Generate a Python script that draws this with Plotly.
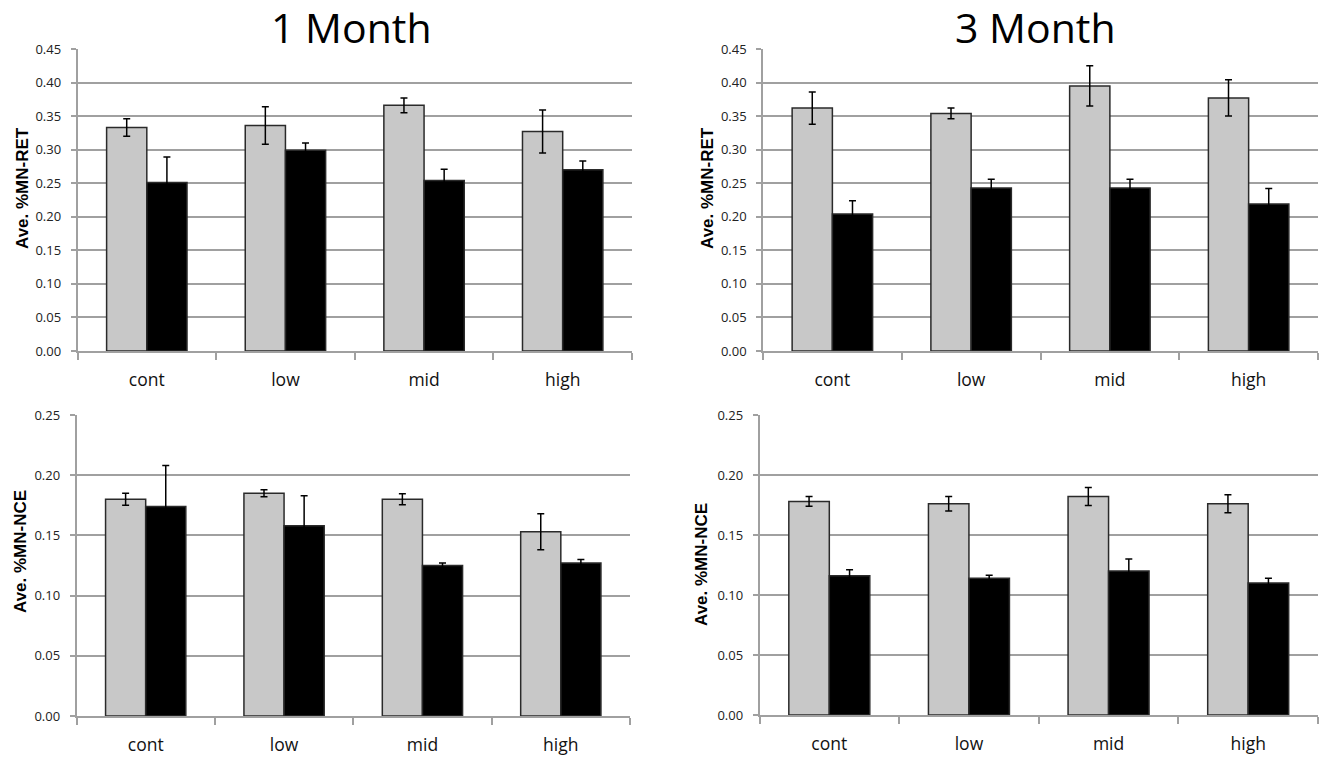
import plotly.graph_objects as go

categories = ["cont", "low", "mid", "high"]

# 1 Month, %MN-RET
m1_ret_grey = [0.333, 0.336, 0.366, 0.327]
m1_ret_grey_err = [0.013, 0.028, 0.011, 0.032]
m1_ret_black = [0.251, 0.299, 0.254, 0.270]
m1_ret_black_err = [0.038, 0.011, 0.017, 0.013]

# 3 Month, %MN-RET
m3_ret_grey = [0.362, 0.354, 0.395, 0.377]
m3_ret_grey_err = [0.024, 0.008, 0.030, 0.027]
m3_ret_black = [0.204, 0.243, 0.243, 0.219]
m3_ret_black_err = [0.020, 0.013, 0.013, 0.023]

# 1 Month, %MN-NCE
m1_nce_grey = [0.180, 0.185, 0.180, 0.153]
m1_nce_grey_err = [0.005, 0.003, 0.0045, 0.015]
m1_nce_black = [0.174, 0.158, 0.125, 0.127]
m1_nce_black_err = [0.034, 0.025, 0.002, 0.003]

# 3 Month, %MN-NCE
m3_nce_grey = [0.178, 0.176, 0.182, 0.176]
m3_nce_grey_err = [0.004, 0.006, 0.0075, 0.0075]
m3_nce_black = [0.116, 0.114, 0.120, 0.110]
m3_nce_black_err = [0.005, 0.0025, 0.010, 0.004]

W, H = 1320, 759
GREY = "#c8c8c8"
GRID = "#a0a0a0"

def fx(px):
    return px / W

def fy(py):
    return 1 - py / H

panels = [
    ("", m1_ret_grey, m1_ret_grey_err, m1_ret_black, m1_ret_black_err, (77.5, 632), (49, 351), 0.45),
    ("2", m3_ret_grey, m3_ret_grey_err, m3_ret_black, m3_ret_black_err, (763, 1318), (49, 351), 0.45),
    ("3", m1_nce_grey, m1_nce_grey_err, m1_nce_black, m1_nce_black_err, (76.5, 630), (415, 716), 0.25),
    ("4", m3_nce_grey, m3_nce_grey_err, m3_nce_black, m3_nce_black_err, (759.5, 1318), (415, 715), 0.25),
]

fig = go.Figure()
layout = {}
for aid, g, ge, b, be, xd, yd, ymax in panels:
    xa = "x" + aid
    ya = "y" + aid
    for vals, errs, col in ((g, ge, GREY), (b, be, "#000000")):
        fig.add_trace(go.Bar(
            x=categories, y=vals, xaxis=xa, yaxis=ya,
            marker=dict(color=col, line=dict(color="#2a2a2a", width=1.5)),
            error_y=dict(type="data", array=errs, visible=True, color="#000000",
                         thickness=1.5, width=3.5),
            showlegend=False, hoverinfo="skip",
        ))
    layout["xaxis" + aid] = dict(
        domain=[fx(xd[0]), fx(xd[1])], anchor=ya, type="category",
        showline=True, linecolor=GRID, linewidth=1.5,
        ticks="outside", tickson="boundaries", ticklen=7, tickcolor=GRID, tickwidth=1.5,
        tickfont=dict(family="Open Sans", size=17.5, color="#111111"),
        ticklabelstandoff=12, showgrid=False, fixedrange=True, automargin=False,
    )
    layout["yaxis" + aid] = dict(
        domain=[fy(yd[1]), fy(yd[0])], anchor=xa, range=[0, ymax], dtick=0.05,
        tickformat=".2f", showgrid=True, gridcolor=GRID, gridwidth=1.5,
        showline=True, linecolor=GRID, linewidth=1.5, zeroline=False,
        ticks="outside", ticklen=5, tickcolor=GRID, tickwidth=1.5,
        tickfont=dict(family="Open Sans", size=13, color="#222222"),
        ticklabelstandoff=7, fixedrange=True, automargin=False,
    )

def ann(text, x, y, size, family, angle=0):
    return dict(text=text, x=fx(x), y=fy(y), xref="paper", yref="paper",
                xanchor="center", yanchor="middle", textangle=angle,
                showarrow=False, font=dict(family=family, size=size, color="#000000"))

annotations = [
    ann("1 Month", 351, 27, 41, "Open Sans"),
    ann("3 Month", 1035, 27, 41, "Open Sans"),
    ann("<b>Ave. %MN-RET</b>", 22, 188, 17, "Liberation Sans", -90),
    ann("<b>Ave. %MN-RET</b>", 707, 188, 17, "Liberation Sans", -90),
    ann("<b>Ave. %MN-NCE</b>", 20, 552, 17, "Liberation Sans", -90),
    ann("<b>Ave. %MN-NCE</b>", 701, 564, 17, "Liberation Sans", -90),
]

fig.update_layout(
    width=W, height=H, margin=dict(l=0, r=0, t=0, b=0, autoexpand=False),
    paper_bgcolor="white", plot_bgcolor="white",
    barmode="group", bargap=0.42, bargroupgap=0,
    annotations=annotations, **layout,
)

fig.write_html(
    "out.html",
    config={"displayModeBar": False},
    post_script="document.body.style.margin='0';document.body.style.overflow='hidden';",
)
